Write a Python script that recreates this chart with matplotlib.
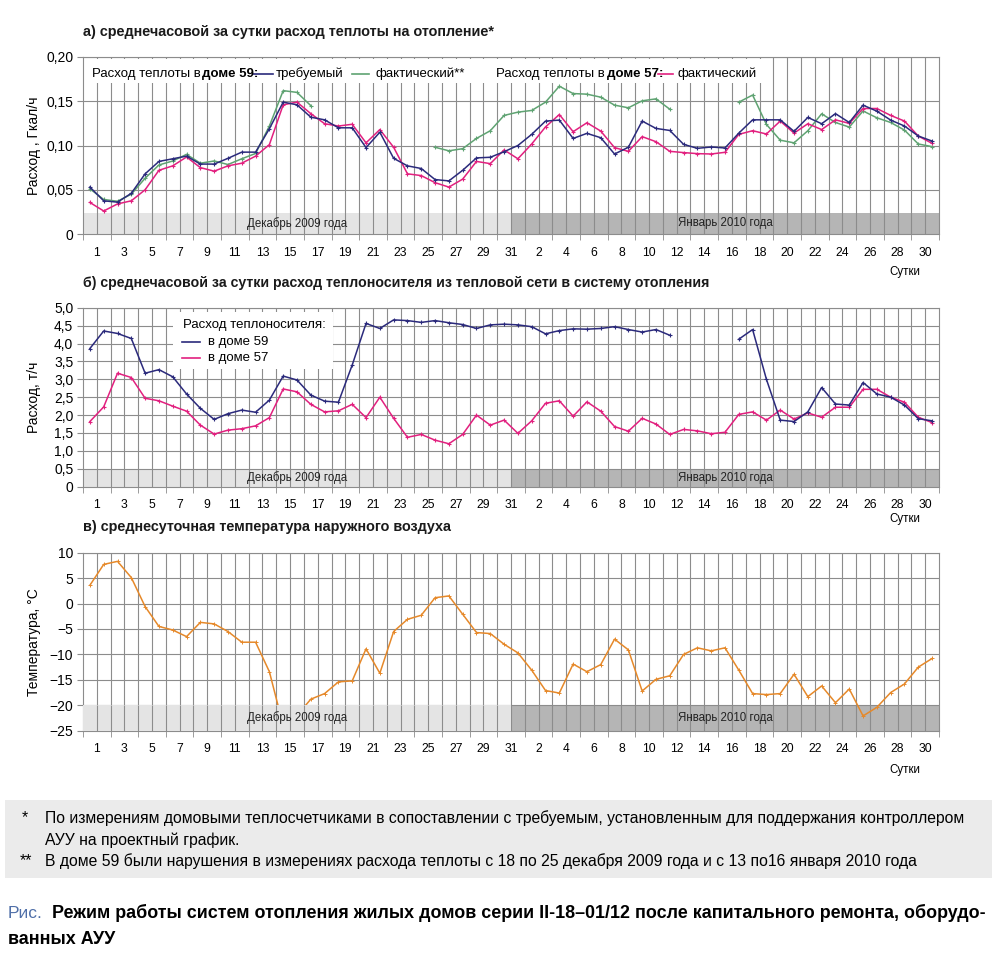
import numpy as np
import matplotlib.pyplot as plt
from matplotlib.patches import Rectangle

plt.rcParams['font.family'] = ['Liberation Sans', 'DejaVu Sans']

# ================= ДАННЫЕ ==================
nan = np.nan
dec_days = list(range(1, 32))
jan_days = list(range(1, 32))

# а) расход теплоты, Гкал/ч
heat59_req = [0.053, 0.0375, 0.036, 0.046, 0.068, 0.082, 0.085, 0.088, 0.079, 0.079,
              0.0855, 0.0925, 0.0925, 0.119, 0.149, 0.146, 0.132, 0.129, 0.120, 0.120,
              0.0976, 0.115, 0.0855, 0.077, 0.074, 0.0615, 0.060, 0.072, 0.086, 0.0867, 0.093,
              0.100, 0.1126, 0.1276, 0.1287, 0.108, 0.1137, 0.1088, 0.0904, 0.098, 0.1276,
              0.1193, 0.117, 0.1013, 0.0968, 0.0983, 0.0972, 0.114, 0.129, 0.129, 0.129,
              0.116, 0.1317, 0.1246, 0.136, 0.126, 0.1456, 0.1388, 0.1287, 0.122, 0.1107, 0.105]
heat59_fact = [0.051, 0.039, 0.037, 0.045, 0.063, 0.078, 0.0825, 0.090, 0.080, 0.0825,
               0.0785, 0.085, 0.091, 0.122, 0.162, 0.160, 0.145, nan, nan, nan,
               nan, nan, nan, nan, nan, 0.098, 0.094, 0.0964, 0.108, 0.1167, 0.134,
               0.1377, 0.1396, 0.149, 0.167, 0.1587, 0.158, 0.1546, 0.1456, 0.1426, 0.1505,
               0.1527, 0.141, nan, nan, nan, nan, 0.149, 0.157, 0.1238, 0.106,
               0.103, 0.1167, 0.1358, 0.126, 0.1208, 0.139, 0.1313, 0.126, 0.1174, 0.1017, 0.0987]
heat57_fact = [0.0356, 0.026, 0.034, 0.0375, 0.050, 0.072, 0.077, 0.087, 0.075, 0.071,
               0.077, 0.080, 0.088, 0.101, 0.146, 0.149, 0.136, 0.1246, 0.122, 0.124,
               0.103, 0.118, 0.098, 0.068, 0.066, 0.058, 0.053, 0.062, 0.082, 0.0795, 0.095,
               0.085, 0.1017, 0.121, 0.135, 0.1156, 0.1257, 0.1163, 0.0976, 0.0934, 0.110,
               0.1043, 0.0934, 0.092, 0.0908, 0.0904, 0.0923, 0.1126, 0.1167, 0.113, 0.1276,
               0.114, 0.1246, 0.118, 0.129, 0.125, 0.1418, 0.1418, 0.134, 0.1276, 0.1107, 0.1024]

# б) расход теплоносителя, т/ч
flow59 = [3.86, 4.35, 4.28, 4.14, 3.17, 3.27, 3.07, 2.59, 2.19, 1.88,
          2.04, 2.14, 2.08, 2.42, 3.09, 2.98, 2.56, 2.39, 2.36, 3.40,
          4.56, 4.42, 4.66, 4.64, 4.59, 4.64, 4.58, 4.53, 4.42, 4.52, 4.54,
          4.52, 4.47, 4.27, 4.36, 4.41, 4.40, 4.42, 4.47, 4.39, 4.32,
          4.39, 4.23, nan, nan, nan, nan, 4.12, 4.39, 3.00, 1.86,
          1.82, 2.09, 2.77, 2.31, 2.28, 2.91, 2.59, 2.50, 2.28, 1.90, 1.84]
flow57 = [1.82, 2.23, 3.17, 3.05, 2.47, 2.40, 2.25, 2.11, 1.72, 1.47,
          1.58, 1.62, 1.70, 1.93, 2.73, 2.65, 2.30, 2.09, 2.12, 2.30,
          1.93, 2.50, 1.91, 1.38, 1.46, 1.30, 1.20, 1.46, 2.00, 1.72, 1.86,
          1.49, 1.84, 2.33, 2.40, 1.97, 2.37, 2.11, 1.68, 1.55, 1.91,
          1.75, 1.46, 1.60, 1.56, 1.48, 1.52, 2.02, 2.09, 1.86, 2.14,
          1.89, 2.06, 1.94, 2.22, 2.22, 2.72, 2.72, 2.50, 2.36, 1.94, 1.79]

# в) температура наружного воздуха, °С
t_out = [3.6, 7.7, 8.3, 5.1, -0.6, -4.5, -5.2, -6.5, -3.7, -4.0,
         -5.5, -7.6, -7.6, -13.4, -24.0, -22.0, -18.8, -17.7, -15.4, -15.2,
         -8.9, -13.7, -5.5, -3.1, -2.3, 1.15, 1.5, -2.1, -5.7, -5.9, -8.0,
         -9.7, -13.1, -17.1, -17.6, -11.9, -13.4, -12.0, -7.0, -9.1, -17.2,
         -14.9, -14.2, -10.0, -8.7, -9.3, -8.7, -13.1, -17.7, -17.9, -17.7,
         -13.9, -18.3, -16.2, -19.5, -16.8, -22.1, -20.4, -17.5, -15.8, -12.5, -10.8]

xtick_labels = [str(d) for d in dec_days[::2]] + [str(d) for d in jan_days[1::2]]

# ================= ОФОРМЛЕНИЕ ==================
NAVY = '#2b2a7c'
GREEN = '#5fa372'
PINK = '#e2207f'
ORANGE = '#e6892a'
GRID = '#8c8c8c'
DEC_BAND = '#e4e4e4'
JAN_BAND = '#b5b5b5'

n = len(heat59_req)
x = np.arange(n) + 0.5

fig = plt.figure(figsize=(10, 9.66), dpi=100)
H = 966.0


def fy(py):
    return 1 - py / H


def make_axis(top_px, bot_px, ylim, yticks, ylabels, ylabel, band_top):
    ax = fig.add_axes([0.083, fy(bot_px), 0.856, (bot_px - top_px) / H])
    ax.set_xlim(0, n)
    ax.set_ylim(*ylim)
    # полосы месяцев
    ax.add_patch(Rectangle((0, ylim[0]), 31, band_top - ylim[0], color=DEC_BAND, lw=0, zorder=0.5))
    ax.add_patch(Rectangle((31, ylim[0]), 31, band_top - ylim[0], color=JAN_BAND, lw=0, zorder=0.5))
    ymid = (ylim[0] + band_top) / 2
    ax.text(15.5, ymid, 'Декабрь 2009 года', ha='center', va='center', fontsize=8.3, color='#222222', zorder=6)
    ax.text(46.5, ymid, 'Январь 2010 года', ha='center', va='center', fontsize=8.3, color='#222222', zorder=6)
    # сетка
    ax.vlines(np.arange(1, n), ylim[0], ylim[1], color=GRID, lw=0.8, zorder=1)
    ax.hlines(yticks[1:], 0, n, color=GRID, lw=0.8, zorder=1)
    ax.set_yticks(yticks)
    ax.set_yticklabels(ylabels, fontsize=10)
    ax.set_xticks(np.arange(1, n, 2))
    ax.set_xticklabels(xtick_labels, fontsize=8.7)
    ax.set_xticks(np.arange(0, n + 1), minor=True)
    ax.tick_params(axis='x', which='major', length=0, pad=9)
    ax.tick_params(axis='x', which='minor', length=4, color=GRID)
    ax.tick_params(axis='y', length=4, color=GRID, pad=3)
    for s in ax.spines.values():
        s.set_color(GRID)
        s.set_linewidth(0.8)
    ax.set_ylabel(ylabel, fontsize=10)
    ax.yaxis.set_label_coords(-0.049, 0.5)
    return ax


line_kw = dict(lw=1.1, marker='+', ms=3.5, mew=0.8, zorder=3)

# ---------- а) ----------
ax1 = make_axis(57, 234, (0, 0.2), [0, 0.05, 0.10, 0.15, 0.20],
                ['0', '0,05', '0,10', '0,15', '0,20'], 'Расход , Гкал/ч', 0.024)
ax1.plot(x, heat59_fact, color=GREEN, **line_kw)
ax1.plot(x, heat57_fact, color=PINK, **line_kw)
ax1.plot(x, heat59_req, color=NAVY, **line_kw)
ax1.add_patch(Rectangle((0.005, 0.855), 0.8, 0.135, transform=ax1.transAxes,
                        facecolor='white', lw=0, zorder=2))
fig.text(83 / 1000, fy(32), 'а) среднечасовой за сутки расход теплоты на отопление*',
         fontsize=10.4, fontweight='bold', va='center', color='#1a1a1a')
ly = fy(74)
fs = 9.5
fig.text(0.092, ly, 'Расход теплоты в ', fontsize=fs, va='center')
fig.text(0.202, ly, 'доме 59:', fontsize=fs, va='center', fontweight='bold')
fig.add_artist(plt.Line2D([0.253, 0.273], [ly, ly], color=NAVY, lw=1.2))
fig.text(0.276, ly, 'требуемый', fontsize=fs, va='center')
fig.add_artist(plt.Line2D([0.352, 0.369], [ly, ly], color=GREEN, lw=1.2))
fig.text(0.376, ly, 'фактический**', fontsize=fs, va='center')
fig.text(0.496, ly, 'Расход теплоты в ', fontsize=fs, va='center')
fig.text(0.607, ly, 'доме 57:', fontsize=fs, va='center', fontweight='bold')
fig.add_artist(plt.Line2D([0.658, 0.673], [ly, ly], color=PINK, lw=1.2))
fig.text(0.677, ly, 'фактический', fontsize=fs, va='center')
fig.text(0.905, fy(272), 'Сутки', fontsize=8.3, ha='center', va='center')

# ---------- б) ----------
ax2 = make_axis(307.7, 486.7, (0, 5), list(np.arange(0, 5.01, 0.5)),
                ['0', '0,5', '1,0', '1,5', '2,0', '2,5', '3,0', '3,5', '4,0', '4,5', '5,0'],
                'Расход, т/ч', 0.5)
ax2.plot(x, flow57, color=PINK, **line_kw)
ax2.plot(x, flow59, color=NAVY, **line_kw)
ax2.add_patch(Rectangle((0.105, 0.655), 0.187, 0.32, transform=ax2.transAxes,
                        facecolor='white', lw=0, zorder=2))
fig.text(83 / 1000, fy(283), 'б) среднечасовой за сутки расход теплоносителя из тепловой сети в систему отопления',
         fontsize=10.15, fontweight='bold', va='center', color='#1a1a1a')
fig.text(0.183, fy(325), 'Расход теплоносителя:', fontsize=fs, va='center')
fig.add_artist(plt.Line2D([0.182, 0.200], [fy(342), fy(342)], color=NAVY, lw=1.2))
fig.text(0.208, fy(342), 'в доме 59', fontsize=fs, va='center')
fig.add_artist(plt.Line2D([0.182, 0.200], [fy(358), fy(358)], color=PINK, lw=1.2))
fig.text(0.208, fy(358), 'в доме 57', fontsize=fs, va='center')
fig.text(0.905, fy(519), 'Сутки', fontsize=8.3, ha='center', va='center')

# ---------- в) ----------
ax3 = make_axis(552.7, 730.7, (-25, 10), list(range(-25, 11, 5)),
                ['−25', '−20', '−15', '−10', '−5', '0', '5', '10'],
                'Температура, °С', -20)
ax3.plot(x, t_out, color=ORANGE, lw=1.1, marker='+', ms=3, mew=0.7, zorder=3)
# декабрьская полоса перекрывает линию
ax3.add_patch(Rectangle((0, -25), 31, 5, color=DEC_BAND, lw=0, zorder=4))
ax3.vlines(np.arange(1, 31), -25, -20, color=GRID, lw=0.8, zorder=4.5)
fig.text(83 / 1000, fy(527), 'в) среднесуточная температура наружного воздуха',
         fontsize=10.4, fontweight='bold', va='center', color='#1a1a1a')
fig.text(0.905, fy(770), 'Сутки', fontsize=8.3, ha='center', va='center')

# ---------- примечания ----------
fig.add_artist(Rectangle((0.005, fy(878)), 0.987, (878 - 800) / H, transform=fig.transFigure,
                         facecolor='#ebebeb', lw=0))
nfs = 11.3
fig.text(0.022, fy(818), '*', fontsize=nfs, va='center')
fig.text(0.045, fy(818), 'По измерениям домовыми теплосчетчиками в сопоставлении с требуемым, '
         'установленным для поддержания контроллером', fontsize=nfs, va='center')
fig.text(0.045, fy(840), 'АУУ на проектный график.', fontsize=nfs, va='center')
fig.text(0.020, fy(861), '**', fontsize=nfs, va='center')
fig.text(0.045, fy(861), 'В доме 59 были нарушения в измерениях расхода теплоты с 18 по 25 декабря 2009 года '
         'и с 13 по16 января 2010 года', fontsize=nfs, va='center')

fig.text(0.008, fy(913), 'Рис.', fontsize=12.5, va='center', color='#4f6fa8')
fig.text(0.052, fy(913), 'Режим работы систем отопления жилых домов серии II-18–01/12 после капитального '
         'ремонта, оборудо-', fontsize=12.9, va='center', fontweight='bold')
fig.text(0.008, fy(939), 'ванных АУУ', fontsize=12.9, va='center', fontweight='bold')

fig.savefig('out.png', dpi=100, facecolor='white')
